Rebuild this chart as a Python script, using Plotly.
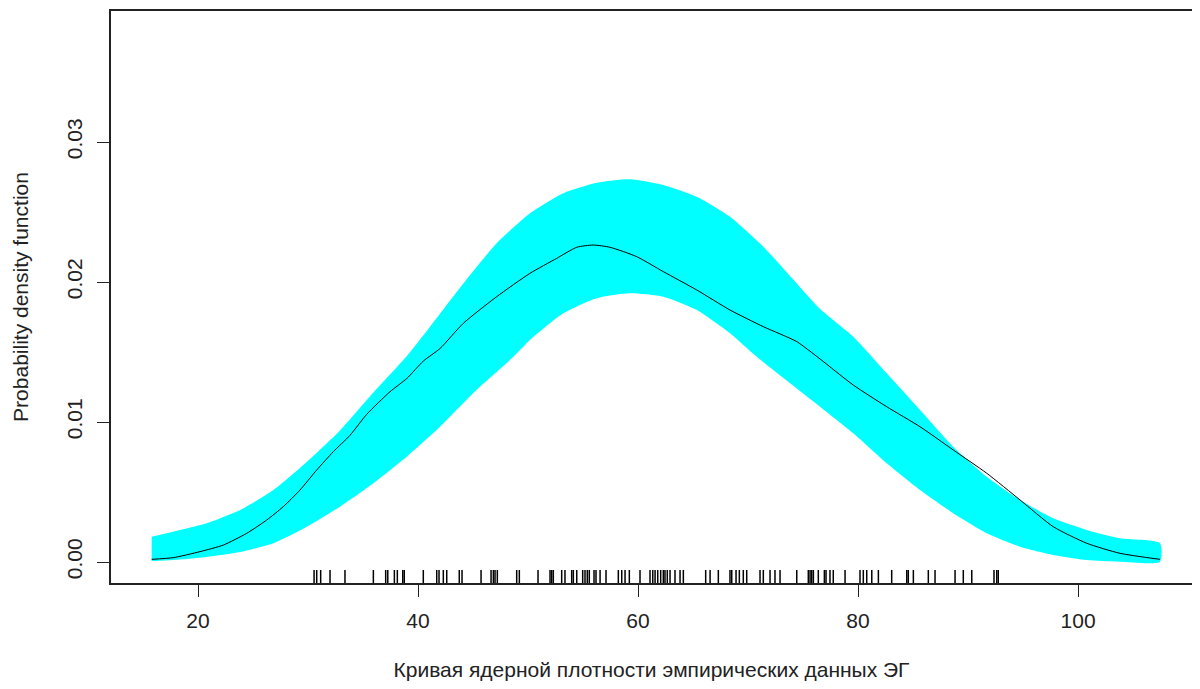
import plotly.graph_objects as go

# Kernel density estimate (black line)
curve_x = [15.79, 17.75, 20.18, 22.3, 24.43, 26.25, 27.75, 29.27, 30.79, 32.3, 33.82, 35.34,
           37.45, 38.97, 40.48, 42.0, 44.12, 47.15, 50.18, 52.61, 54.43, 55.94, 57.45, 59.88,
           62.3, 65.34, 68.36, 71.39, 74.43, 76.55, 79.57, 82.61, 85.64, 88.66, 91.7, 94.73,
           97.75, 100.79, 103.82, 107.45]
curve_y = [0.00019, 0.00031, 0.00074, 0.00121, 0.00205, 0.0030, 0.00395, 0.00514, 0.00657,
           0.00788, 0.00905, 0.01055, 0.01216, 0.0131, 0.01435, 0.01525, 0.01705, 0.01895,
           0.02062, 0.02169, 0.02248, 0.02264, 0.02248, 0.02181, 0.02074, 0.01943, 0.0180,
           0.01681, 0.01574, 0.0145, 0.01264, 0.01109, 0.00966, 0.0080, 0.00634, 0.00443,
           0.00252, 0.00134, 0.00062, 0.00019]

# Reference band (upper edge)
upper_x = [15.79, 17.75, 20.79, 23.82, 26.85, 29.88, 32.91, 35.94, 38.97, 41.09, 44.12, 47.15,
           50.18, 53.21, 56.25, 59.27, 62.3, 65.34, 68.36, 71.39, 74.43, 76.55, 79.57, 82.61,
           85.64, 88.66, 91.7, 94.73, 97.75, 100.79, 103.82, 107.45]
upper_y = [0.00181, 0.00216, 0.00276, 0.00371, 0.00514, 0.00715, 0.0094, 0.0121, 0.0147,
           0.01681, 0.0199, 0.02276, 0.02491, 0.02634, 0.02709, 0.02734, 0.02693, 0.02609,
           0.02466, 0.02252, 0.0199, 0.01807, 0.01609, 0.01348, 0.01086, 0.00824, 0.00609,
           0.00443, 0.00312, 0.00229, 0.00169, 0.00134]

# Reference band (lower edge)
lower_x = [15.79, 17.75, 20.79, 23.82, 26.85, 29.88, 32.91, 35.94, 38.97, 42.0, 45.33, 48.67,
           50.18, 53.21, 56.25, 59.27, 62.3, 65.34, 68.36, 70.79, 76.55, 79.57, 82.61, 85.64,
           88.66, 91.7, 94.73, 97.75, 100.79, 103.82, 107.45]
lower_y = [0.00007, 0.00014, 0.00036, 0.00071, 0.00134, 0.00252, 0.00395, 0.00562, 0.00752,
           0.00966, 0.0123, 0.01466, 0.01586, 0.01776, 0.01884, 0.01919, 0.01895, 0.018,
           0.01634, 0.01466, 0.01109, 0.00919, 0.00705, 0.00514, 0.00348, 0.00205, 0.00109,
           0.0005, 0.00014, 0.00002, 0.00002]

# Observations (rug)
rug_x = [30.55, 30.79, 31.15, 32.0, 33.36, 35.94, 37.06, 37.25, 37.85, 38.12, 38.61, 38.75,
         40.48, 41.7, 41.91, 42.3, 42.61, 43.75, 44.0, 45.73, 46.64, 46.85, 47.0, 47.21,
         48.97, 49.21, 50.91, 52.0, 52.15, 52.3, 53.06, 53.36, 53.97, 54.12, 54.43, 54.97,
         55.18, 55.39, 55.57, 56.0, 56.18, 56.55, 57.09, 58.21, 58.52, 58.82, 59.21, 60.18,
         61.09, 61.34, 61.55, 61.79, 62.06, 62.3, 62.45, 62.66, 62.91, 63.36, 63.82, 64.12,
         66.15, 66.55, 67.3, 68.36, 68.52, 68.91, 69.21, 69.57, 69.88, 71.09, 71.39, 72.0,
         72.45, 72.91, 74.43, 75.48, 75.64, 75.79, 75.94, 76.39, 76.94, 77.09, 77.45, 77.75,
         78.82, 80.18, 80.48, 80.79, 81.25, 81.85, 83.06, 84.43, 84.57, 85.03, 86.39, 87.0,
         88.82, 89.57, 90.34, 92.36, 92.61, 92.75]

x_ticks = [20, 40, 60, 80, 100]
y_ticks = [0.0, 0.01, 0.02, 0.03]
y_tick_labels = ["0.00", "0.01", "0.02", "0.03"]

x_title = "Кривая ядерной плотности эмпирических данных ЭГ"
y_title = "Probability density function"

FONT = "Liberation Sans, Arial, sans-serif"
INK = "#222222"

fig = go.Figure()

band_x = upper_x + lower_x[::-1]
band_y = upper_y + lower_y[::-1]
fig.add_trace(go.Scatter(x=band_x, y=band_y, mode="lines", fill="toself",
                         fillcolor="#00FFFF",
                         line=dict(width=0, color="#00FFFF", shape="spline", smoothing=0.6),
                         hoverinfo="skip", showlegend=False))
fig.add_trace(go.Scatter(x=curve_x, y=curve_y, mode="lines",
                         line=dict(color="black", width=1, shape="spline", smoothing=0.6),
                         showlegend=False))
fig.add_trace(go.Scatter(x=rug_x, y=[-0.00107] * len(rug_x), mode="markers",
                         marker=dict(symbol="line-ns-open", size=10, color="black",
                                     line=dict(color="black", width=1.5)),
                         showlegend=False, cliponaxis=False))

fig.update_layout(
    width=1184, height=673,
    margin=dict(l=103, r=0, t=3, b=98),
    paper_bgcolor="white", plot_bgcolor="white",
    font=dict(family=FONT, size=21, color=INK),
    showlegend=False,
    xaxis=dict(range=[12.09, 110.36], tickmode="array", tickvals=x_ticks,
               showgrid=False, zeroline=False, showline=True, linecolor=INK,
               linewidth=1.5, mirror=True, ticks="outside", ticklen=12, tickwidth=1,
               tickcolor=INK, ticklabelstandoff=6, automargin=False,
               title=dict(text=x_title, standoff=32, font=dict(size=21))),
    yaxis=dict(range=[-0.0015, 0.039357], tickmode="array", tickvals=y_ticks,
               ticktext=y_tick_labels, tickangle=-90,
               showgrid=False, zeroline=False, showline=True, linecolor=INK,
               linewidth=1.5, mirror=False, ticks="outside", ticklen=12, tickwidth=1,
               tickcolor=INK, ticklabelstandoff=7, automargin=False,
               title=dict(text=y_title, standoff=28, font=dict(size=21))),
)

fig.write_html("out.html")
